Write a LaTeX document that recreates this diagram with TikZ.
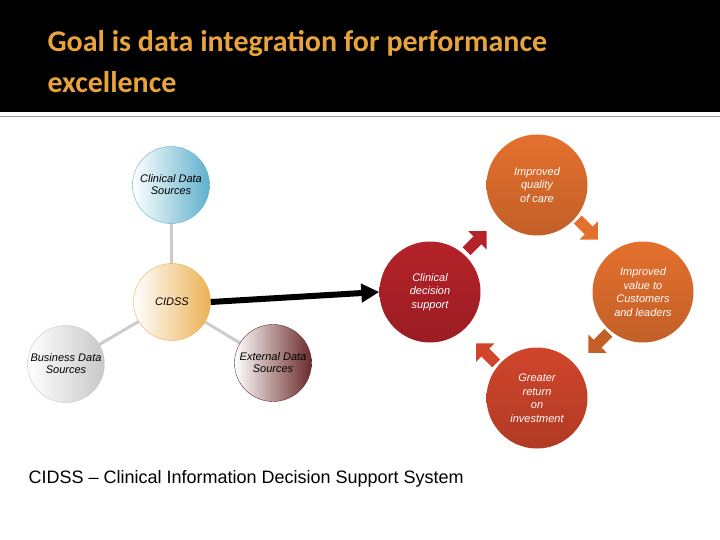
\documentclass[tikz,border=0pt]{standalone}
\usepackage{fontspec}
\setmainfont{Liberation Sans}
\newfontfamily\titlefont{Carlito}
\usetikzlibrary{arrows.meta}
\definecolor{titleorange}{HTML}{E8A33D}
\definecolor{cycred}{HTML}{B52229}
\definecolor{cycorange}{HTML}{E4702E}
\definecolor{cycmid}{HTML}{D0452B}
\definecolor{clinblue}{HTML}{5FB0CC}
\definecolor{cidssorange}{HTML}{EBB154}
\definecolor{busgray}{HTML}{C8C8C8}
\definecolor{extbrown}{HTML}{6B2A2A}
\tikzset{
  src/.style={circle, draw=#1, minimum size=77pt, inner sep=0pt, align=center,
    font=\itshape\fontsize{11}{12}\selectfont, left color=white, right color=#1},
  cyc/.style={circle, minimum size=101pt, inner sep=0pt, align=center, text=white,
    font=\itshape\fontsize{11}{13.5}\selectfont, top color=#1, bottom color=#1!85!black},
  link/.style={draw=black!20, line width=3pt},
  blk/.style={line width=11pt, -{Triangle[width=25pt,length=13pt]}, draw=#1}
}
\begin{document}
\begin{tikzpicture}[x=1pt,y=-1pt]
  \useasboundingbox (0,0) rectangle (720,540);
  % title bar
  \fill[black] (0,0) rectangle (720,112);
  \draw[black!40, line width=1pt] (0,117) -- (720,117);
  \node[anchor=base west, text=titleorange, font=\titlefont\bfseries\fontsize{30}{41}\selectfont, align=left]
    (title) at (44,93) {Goal is data integration for performance\\excellence};

  % links behind the data sources
  \draw[link] (171,185) -- (172,302) -- (66,364);
  \draw[link] (172,302) -- (273,363);

  % data sources around the CIDSS
  \node[src=clinblue] (clin) at (171,185) {Clinical Data\\Sources};
  \node[src=cidssorange] (cidss) at (172,302) {CIDSS};
  \node[src=busgray] (bus) at (66,364) {Business Data\\Sources};
  \node[src=extbrown] (ext) at (273,363) {External Data\\Sources};

  % performance cycle
  \node[cyc=cycred] (decision) at (430,292) {Clinical\\decision\\support};
  \node[cyc=cycorange] (quality) at (537,185) {Improved\\quality\\of care};
  \node[cyc=cycorange] (value) at (643,292) {Improved\\value to\\Customers\\and leaders};
  \node[cyc=cycmid] (roi) at (537,398) {Greater\\return\\on\\investment};

  % main flow
  \draw[line width=6pt, -{Triangle[width=18pt,length=18pt]}] (cidss.east) -- (decision.west);

  % cycle arrows
  \draw[blk=cycred] (decision.50) ++(4,-2) coordinate (a1) -- ++(20,-20);
  \draw[blk=cycorange] (quality.-40) ++(2,2) coordinate (a2) -- ++(20,20);
  \draw[blk=cycorange!85!black] (value.-130) ++(-2,2) coordinate (a3) -- ++(-20,20);
  \draw[blk=cycmid] (roi.140) ++(-2,-2) coordinate (a4) -- ++(-20,-20);

  % footnote
  \node[anchor=base west, font=\fontsize{18}{20}\selectfont] (note) at (25,483)
    {CIDSS -- Clinical Information Decision Support System};
\end{tikzpicture}
\end{document}
